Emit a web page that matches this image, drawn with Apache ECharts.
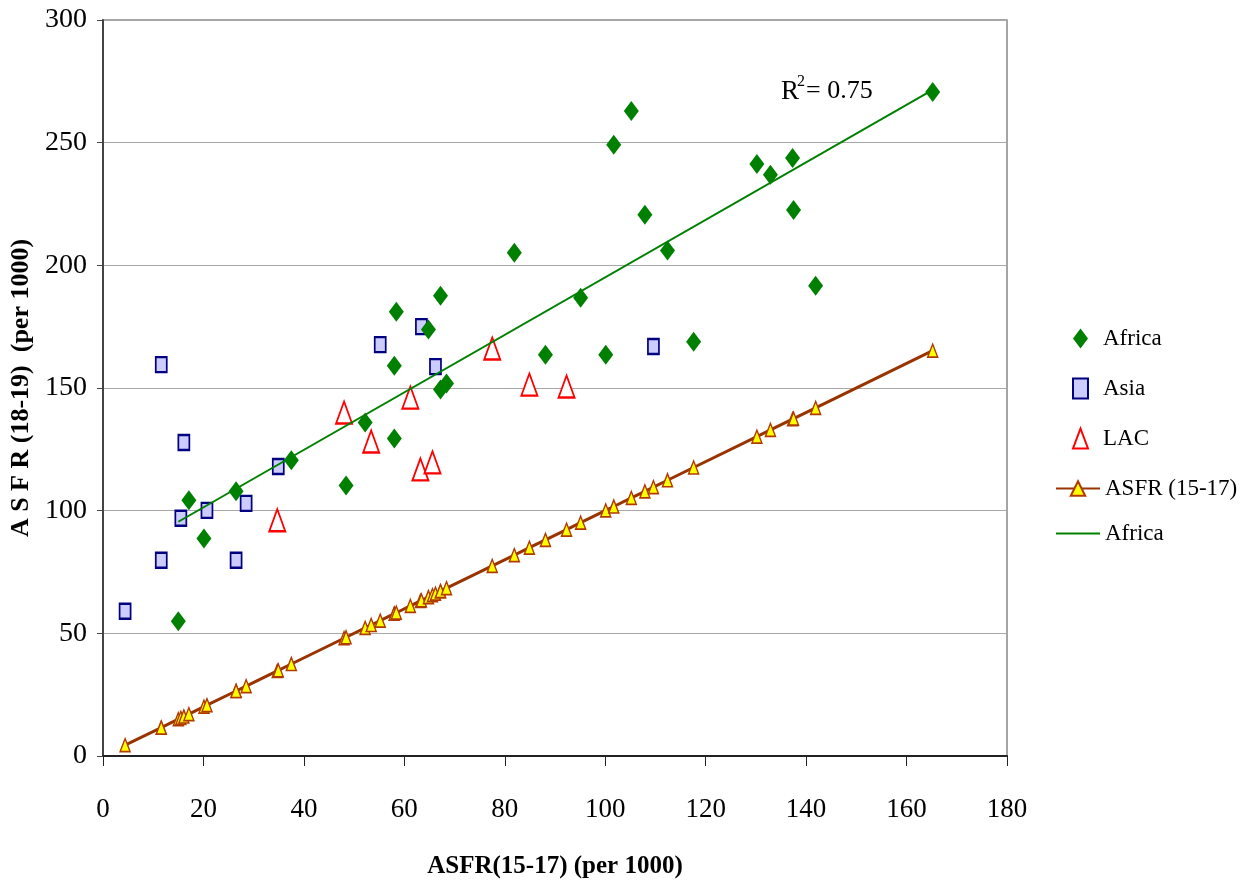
<!DOCTYPE html>
<html>
<head>
<meta charset="utf-8">
<script src="https://cdn.jsdelivr.net/npm/echarts@6/dist/echarts.min.js"></script>
<style>
  html, body { margin: 0; padding: 0; background: #fff; }
  #chart-container { width: 1244px; height: 886px; }
</style>
</head>
<body>
<div id="chart-container"></div>
<script>
// ASFR(15-17) values (x) and ASFR(18-19) values (y) per region
var africaX = [15.0, 20.1, 17.1, 26.5, 37.5, 48.4, 52.2, 58.0, 58.0, 58.4, 64.8, 67.2, 67.2, 68.4,
  81.9, 88.1, 95.1, 100.1, 101.7, 105.2, 107.9, 112.4, 117.6, 130.2, 132.9, 137.5, 137.3, 141.9, 165.2];
var africaY = [54.9, 88.7, 104.2, 107.9, 120.5, 110.3, 135.9, 129.4, 159.1, 181.1, 173.8, 187.6, 149.4, 151.8,
  205.1, 163.6, 186.8, 163.6, 249.1, 262.9, 220.6, 206.0, 168.9, 241.3, 236.9, 222.6, 243.8, 191.7, 270.7];

var asiaX = [4.4, 11.6, 11.6, 16.1, 15.5, 20.7, 26.5, 28.5, 34.9, 55.2, 63.4, 66.2, 109.6];
var asiaY = [59.0, 159.5, 79.8, 127.8, 96.9, 100.1, 79.8, 103.0, 118.0, 167.7, 175.0, 158.7, 166.9];

var lacX = [34.7, 48.0, 53.4, 61.2, 63.2, 65.6, 77.5, 84.9, 92.3];
var lacY = [96.1, 140.0, 128.2, 146.1, 116.8, 119.7, 166.1, 151.4, 150.6];

var xTicks = { min: 0, max: 180, interval: 20 };
var yTicks = { min: 0, max: 300, interval: 50 };
var rSquared = '0.75';

function pairs(xs, ys) {
  return xs.map(function (x, i) { return [x, ys[i]]; });
}

// reference line: every country's ASFR(15-17) against itself
var allX = africaX.concat(asiaX, lacX).slice().sort(function (a, b) { return a - b; });
var refLine = allX.map(function (x) { return [x, x]; });

// linear trend for Africa
function fit(xs, ys) {
  var n = xs.length, sx = 0, sy = 0, sxx = 0, sxy = 0;
  for (var i = 0; i < n; i++) {
    sx += xs[i]; sy += ys[i]; sxx += xs[i] * xs[i]; sxy += xs[i] * ys[i];
  }
  var b = (n * sxy - sx * sy) / (n * sxx - sx * sx);
  var a = (sy - b * sx) / n;
  return { a: a, b: b };
}
var tr = fit(africaX, africaY);
var xMin = Math.min.apply(null, africaX), xMax = Math.max.apply(null, africaX);
var trendLine = [[xMin, tr.a + tr.b * xMin], [xMax, tr.a + tr.b * xMax]];

var font = 'Liberation Serif';
var dom = document.getElementById('chart-container');
var myChart = echarts.init(dom, null, { renderer: 'canvas' });

var legendText = { fontFamily: font, fontSize: 23, color: '#000' };

var option = {
  animation: false,
  backgroundColor: '#fff',
  textStyle: { fontFamily: font, color: '#000' },
  grid: {
    left: 103, right: 237, top: 20, bottom: 130,
    show: true, borderColor: '#888', borderWidth: 1.5, backgroundColor: '#fff'
  },
  legend: [
    {
      // scatter markers
      orient: 'vertical',
      left: 1067,
      top: 322,
      itemGap: 27,
      itemWidth: 15,
      itemHeight: 20,
      textStyle: Object.assign({ padding: [0, 0, 0, 10] }, legendText),
      data: ['Africa', 'Asia', 'LAC']
    },
    {
      // lines
      orient: 'vertical',
      left: 1050,
      top: 472,
      itemGap: 22,
      itemWidth: 44,
      itemHeight: 18,
      textStyle: legendText,
      data: ['ASFR (15-17)', { name: 'Africa ', itemStyle: { opacity: 0 } }]
    }
  ],
  xAxis: {
    type: 'value',
    min: xTicks.min, max: xTicks.max, interval: xTicks.interval,
    name: 'ASFR(15-17) (per 1000)',
    nameLocation: 'middle',
    nameGap: 98,
    nameTextStyle: { fontFamily: font, fontSize: 25, fontWeight: 'bold', color: '#000' },
    axisLine: { show: true, onZero: false, lineStyle: { color: '#222', width: 2 } },
    axisTick: { show: true, inside: false, length: 10, lineStyle: { color: '#222', width: 1 } },
    axisLabel: { margin: 40, fontFamily: font, fontSize: 27, color: '#000' },
    splitLine: { show: false }
  },
  yAxis: {
    type: 'value',
    min: yTicks.min, max: yTicks.max, interval: yTicks.interval,
    name: 'A S F R (18-19)  (per 1000)',
    nameLocation: 'middle',
    nameGap: 62,
    nameTextStyle: { fontFamily: font, fontSize: 26, fontWeight: 'bold', color: '#000' },
    axisLine: { show: true, onZero: false, lineStyle: { color: '#444', width: 2 } },
    axisTick: { show: true, inside: false, length: 6, lineStyle: { color: '#444' } },
    axisLabel: { margin: 16, fontFamily: font, fontSize: 28, color: '#000' },
    splitLine: { show: true, lineStyle: { color: '#a8a8a8', width: 1 } }
  },
  series: [
    {
      name: 'Africa',
      type: 'scatter',
      symbol: 'diamond',
      symbolSize: [15, 20],
      itemStyle: { color: '#008000', opacity: 1 },
      data: pairs(africaX, africaY),
      z: 4
    },
    {
      name: 'Asia',
      type: 'scatter',
      symbol: 'rect',
      symbolSize: [11, 15],
      itemStyle: { color: '#ccccff', borderColor: '#000080', borderWidth: 2, opacity: 1 },
      data: pairs(asiaX, asiaY),
      z: 3
    },
    {
      name: 'LAC',
      type: 'scatter',
      symbol: 'triangle',
      symbolSize: [16, 22],
      itemStyle: { color: '#fff', borderColor: '#ff0000', borderWidth: 2, opacity: 1 },
      data: pairs(lacX, lacY),
      z: 3
    },
    {
      name: 'ASFR (15-17)',
      type: 'line',
      symbol: 'triangle',
      symbolSize: [10, 13],
      showAllSymbol: true,
      lineStyle: { color: '#993300', width: 3 },
      itemStyle: { color: '#ffff00', borderColor: '#b03a00', borderWidth: 1.5 },
      data: refLine,
      z: 2
    },
    {
      name: 'Africa ',
      type: 'line',
      symbol: 'none',
      lineStyle: { color: '#008000', width: 2 },
      itemStyle: { color: '#008000' },
      data: trendLine,
      z: 5
    }
  ],
  graphic: [
    { type: 'text', left: 781, top: 78, style: { text: 'R', font: '27px "Liberation Serif"', fill: '#000' } },
    { type: 'text', left: 797, top: 74, style: { text: '2', font: '16px "Liberation Serif"', fill: '#000' } },
    { type: 'text', left: 806, top: 78, style: { text: '= ' + rSquared, font: '26px "Liberation Serif"', fill: '#000' } }
  ]
};

myChart.setOption(option);
window.addEventListener('resize', myChart.resize);
</script>
</body>
</html>
